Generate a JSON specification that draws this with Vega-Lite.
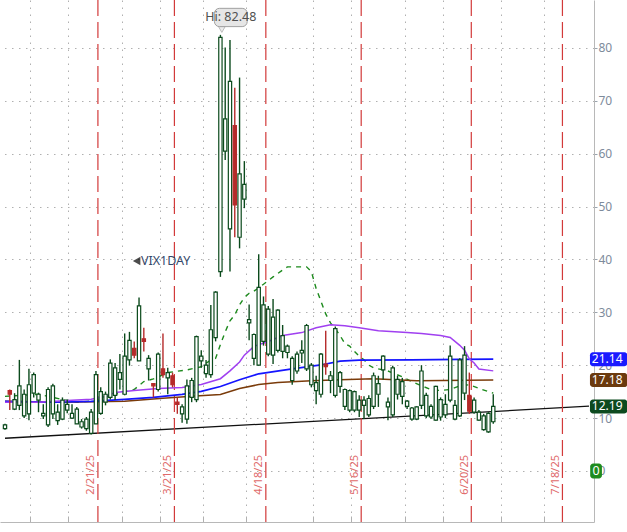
{
"$schema": "https://vega.github.io/schema/vega-lite/v6.json",
"width": 594, "height": 522, "autosize": "none", "padding": {"left": 0, "top": 0, "right": 33, "bottom": 10},
"background": "#ffffff",
"config": {"view": {"stroke": null, "fill": "#ffffff"}, "font": "Noto Sans"},
"resolve": {"scale": {"color": "independent", "fill": "independent", "stroke": "independent"}},
"datasets": {
"trend": [{"d": 0, "v": 6.18}, {"d": 122, "v": 12.24}],
"opex": [{"d": 19.41, "lab": "2/21/25"}, {"d": 35.39, "lab": "3/21/25"}, {"d": 54.49, "lab": "4/18/25"}, {"d": 74.41, "lab": "5/16/25"}, {"d": 97.41, "lab": "6/20/25"}, {"d": 116.45, "lab": "7/18/25"}],
"candles": [
{"d":0,"h":8.9,"l":7.8,"top":8.7,"bot":8.0,"t":"up"},
{"d":1,"h":15.4,"l":11.5,"top":15.2,"bot":14.5,"t":"dn"},
{"d":2,"h":14.7,"l":11.5,"top":13.5,"bot":11.7,"t":"up"},
{"d":3,"h":21.0,"l":11.5,"top":16.1,"bot":12.4,"t":"up"},
{"d":4,"h":15.4,"l":10.0,"top":14.5,"bot":10.4,"t":"up"},
{"d":5,"h":19.3,"l":9.6,"top":16.3,"bot":10.8,"t":"up"},
{"d":6,"h":18.6,"l":13.9,"top":18.2,"bot":14.7,"t":"up"},
{"d":7,"h":14.8,"l":11.1,"top":14.5,"bot":13.4,"t":"up"},
{"d":8,"h":12.6,"l":9.8,"top":10.9,"bot":10.4,"t":"up"},
{"d":9,"h":15.8,"l":8.3,"top":15.4,"bot":8.7,"t":"up"},
{"d":10,"h":16.5,"l":9.8,"top":16.1,"bot":10.8,"t":"up"},
{"d":11,"h":12.6,"l":8.7,"top":11.1,"bot":9.5,"t":"up"},
{"d":12,"h":13.9,"l":9.6,"top":13.4,"bot":9.8,"t":"up"},
{"d":13,"h":13.5,"l":10.9,"top":12.6,"bot":11.5,"t":"up"},
{"d":14,"h":12.6,"l":9.8,"top":10.9,"bot":10.0,"t":"up"},
{"d":15,"h":12.1,"l":8.9,"top":11.7,"bot":8.9,"t":"up"},
{"d":16,"h":9.8,"l":8.0,"top":9.3,"bot":8.3,"t":"up"},
{"d":17,"h":10.2,"l":7.6,"top":9.8,"bot":8.0,"t":"up"},
{"d":18,"h":11.7,"l":6.9,"top":11.1,"bot":7.1,"t":"up"},
{"d":19,"h":18.9,"l":8.9,"top":18.2,"bot":8.9,"t":"up"},
{"d":20,"h":15.8,"l":10.6,"top":15.0,"bot":10.9,"t":"up"},
{"d":21,"h":15.0,"l":12.4,"top":14.5,"bot":13.0,"t":"up"},
{"d":22,"h":21.1,"l":13.5,"top":20.4,"bot":13.9,"t":"up"},
{"d":23,"h":20.4,"l":13.4,"top":19.5,"bot":14.3,"t":"up"},
{"d":24,"h":22.1,"l":15.4,"top":18.6,"bot":17.3,"t":"up"},
{"d":25,"h":26.0,"l":14.3,"top":21.7,"bot":14.5,"t":"up"},
{"d":26,"h":26.3,"l":19.9,"top":24.7,"bot":21.0,"t":"up"},
{"d":27,"h":24.5,"l":21.3,"top":23.2,"bot":21.9,"t":"dn"},
{"d":28,"h":32.8,"l":20.8,"top":31.2,"bot":20.8,"t":"up"},
{"d":29,"h":27.1,"l":22.6,"top":25.0,"bot":24.5,"t":"dn"},
{"d":30,"h":21.9,"l":17.1,"top":21.3,"bot":19.3,"t":"up"},
{"d":31,"h":16.5,"l":13.9,"top":16.5,"bot":16.1,"t":"dn"},
{"d":32,"h":22.4,"l":15.0,"top":22.1,"bot":15.4,"t":"up"},
{"d":33,"h":26.0,"l":17.6,"top":19.3,"bot":18.2,"t":"dn"},
{"d":34,"h":19.5,"l":14.5,"top":18.6,"bot":17.6,"t":"up"},
{"d":35,"h":18.6,"l":15.8,"top":18.0,"bot":16.3,"t":"dn"},
{"d":36,"h":13.9,"l":10.8,"top":13.0,"bot":12.6,"t":"dn"},
{"d":37,"h":12.6,"l":9.1,"top":12.1,"bot":10.8,"t":"up"},
{"d":38,"h":17.3,"l":8.9,"top":16.1,"bot":9.8,"t":"up"},
{"d":39,"h":17.6,"l":13.0,"top":17.1,"bot":13.9,"t":"up"},
{"d":40,"h":25.6,"l":13.0,"top":25.4,"bot":13.5,"t":"up"},
{"d":41,"h":22.8,"l":19.5,"top":21.7,"bot":20.8,"t":"up"},
{"d":42,"h":21.0,"l":17.6,"top":20.0,"bot":18.4,"t":"up"},
{"d":43,"h":31.4,"l":17.6,"top":26.7,"bot":18.2,"t":"up"},
{"d":44,"h":34.0,"l":24.5,"top":33.8,"bot":25.2,"t":"up"},
{"d":45,"h":82.48,"l":36.7,"top":82.0,"bot":37.7,"t":"up"},
{"d":46,"h":80.1,"l":58.8,"top":66.6,"bot":60.5,"t":"up"},
{"d":47,"h":81.5,"l":37.7,"top":73.7,"bot":45.8,"t":"up"},
{"d":48,"h":72.5,"l":44.2,"top":65.3,"bot":50.3,"t":"dn"},
{"d":49,"h":74.4,"l":42.1,"top":56.2,"bot":44.2,"t":"up"},
{"d":50,"h":58.6,"l":49.7,"top":54.2,"bot":51.4,"t":"up"},
{"d":51,"h":31.5,"l":24.7,"top":28.6,"bot":28.0,"t":"up"},
{"d":52,"h":26.0,"l":20.0,"top":25.8,"bot":21.3,"t":"up"},
{"d":53,"h":41.0,"l":19.9,"top":34.7,"bot":20.0,"t":"up"},
{"d":54,"h":33.0,"l":23.7,"top":31.4,"bot":24.5,"t":"up"},
{"d":55,"h":31.2,"l":21.7,"top":30.6,"bot":22.1,"t":"up"},
{"d":56,"h":32.5,"l":20.2,"top":29.1,"bot":21.9,"t":"up"},
{"d":57,"h":30.6,"l":22.4,"top":30.4,"bot":22.8,"t":"up"},
{"d":58,"h":27.6,"l":21.3,"top":25.6,"bot":22.6,"t":"up"},
{"d":59,"h":23.9,"l":21.3,"top":23.6,"bot":22.4,"t":"up"},
{"d":60,"h":21.7,"l":16.3,"top":21.3,"bot":17.1,"t":"up"},
{"d":61,"h":22.6,"l":18.4,"top":22.1,"bot":18.9,"t":"up"},
{"d":62,"h":24.7,"l":20.4,"top":22.8,"bot":22.3,"t":"up"},
{"d":63,"h":27.8,"l":18.9,"top":27.5,"bot":19.3,"t":"up"},
{"d":64,"h":20.4,"l":15.8,"top":20.0,"bot":16.3,"t":"up"},
{"d":65,"h":18.0,"l":12.6,"top":16.7,"bot":15.2,"t":"up"},
{"d":66,"h":22.3,"l":13.9,"top":22.1,"bot":14.5,"t":"up"},
{"d":67,"h":26.5,"l":18.2,"top":20.2,"bot":19.7,"t":"dn"},
{"d":68,"h":18.9,"l":14.7,"top":18.0,"bot":17.1,"t":"up"},
{"d":69,"h":27.3,"l":13.9,"top":26.9,"bot":14.3,"t":"up"},
{"d":70,"h":18.9,"l":14.8,"top":18.6,"bot":16.0,"t":"up"},
{"d":71,"h":15.6,"l":11.5,"top":15.4,"bot":12.2,"t":"up"},
{"d":72,"h":15.4,"l":11.1,"top":15.2,"bot":11.5,"t":"up"},
{"d":73,"h":15.2,"l":11.1,"top":15.0,"bot":11.5,"t":"up"},
{"d":74,"h":14.3,"l":10.2,"top":13.4,"bot":11.5,"t":"up"},
{"d":75,"h":14.1,"l":9.8,"top":13.4,"bot":12.4,"t":"up"},
{"d":76,"h":14.3,"l":10.2,"top":13.7,"bot":10.6,"t":"up"},
{"d":77,"h":18.6,"l":11.7,"top":18.0,"bot":12.2,"t":"up"},
{"d":78,"h":18.0,"l":12.1,"top":16.5,"bot":14.5,"t":"up"},
{"d":79,"h":21.9,"l":17.3,"top":21.7,"bot":19.1,"t":"up"},
{"d":80,"h":13.9,"l":9.6,"top":13.0,"bot":12.1,"t":"up"},
{"d":81,"h":19.9,"l":10.2,"top":19.5,"bot":10.6,"t":"up"},
{"d":82,"h":18.0,"l":13.5,"top":17.3,"bot":14.5,"t":"up"},
{"d":83,"h":17.6,"l":12.6,"top":16.9,"bot":14.1,"t":"up"},
{"d":84,"h":13.4,"l":11.7,"top":13.2,"bot":12.2,"t":"up"},
{"d":85,"h":12.1,"l":9.5,"top":11.9,"bot":9.8,"t":"up"},
{"d":86,"h":12.2,"l":9.6,"top":12.1,"bot":9.8,"t":"up"},
{"d":87,"h":20.0,"l":11.7,"top":18.9,"bot":12.4,"t":"up"},
{"d":88,"h":14.8,"l":10.0,"top":14.3,"bot":10.4,"t":"up"},
{"d":89,"h":12.6,"l":9.8,"top":12.2,"bot":10.2,"t":"up"},
{"d":90,"h":16.1,"l":9.5,"top":16.0,"bot":9.6,"t":"up"},
{"d":91,"h":13.9,"l":9.5,"top":13.5,"bot":10.2,"t":"up"},
{"d":92,"h":14.5,"l":10.0,"top":12.6,"bot":10.6,"t":"up"},
{"d":93,"h":23.7,"l":13.0,"top":21.7,"bot":13.4,"t":"up"},
{"d":94,"h":13.4,"l":9.6,"top":12.4,"bot":9.8,"t":"up"},
{"d":95,"h":21.3,"l":10.2,"top":21.0,"bot":10.4,"t":"up"},
{"d":96,"h":23.6,"l":13.4,"top":21.9,"bot":14.7,"t":"up"},
{"d":97,"h":18.6,"l":10.8,"top":14.3,"bot":11.3,"t":"dn"},
{"d":98,"h":13.9,"l":10.8,"top":13.4,"bot":11.1,"t":"up"},
{"d":99,"h":11.5,"l":9.5,"top":11.1,"bot":9.6,"t":"up"},
{"d":100,"h":10.8,"l":7.6,"top":10.4,"bot":7.8,"t":"up"},
{"d":101,"h":11.1,"l":7.2,"top":10.9,"bot":7.4,"t":"up"},
{"d":102,"h":14.5,"l":8.9,"top":12.19,"bot":9.3,"t":"up"}
],
"ma": [
{"s":"g","d":0,"v":14.1},{"s":"g","d":7,"v":14.5},{"s":"g","d":10,"v":13.9},{"s":"g","d":12,"v":13.5},{"s":"g","d":15,"v":13.0},{"s":"g","d":18,"v":13.2},{"s":"g","d":20,"v":13.7},{"s":"g","d":24,"v":14.7},{"s":"g","d":27,"v":15.4},{"s":"g","d":29,"v":16.9},{"s":"g","d":31,"v":17.4},{"s":"g","d":34,"v":18.6},{"s":"g","d":38,"v":19.1},{"s":"g","d":41,"v":19.7},{"s":"g","d":43,"v":21.0},{"s":"g","d":44,"v":21.3},{"s":"g","d":45,"v":23.9},{"s":"g","d":46,"v":26.3},{"s":"g","d":47,"v":28.4},{"s":"g","d":48,"v":29.5},{"s":"g","d":49,"v":31.4},{"s":"g","d":50,"v":32.8},{"s":"g","d":51,"v":33.6},{"s":"g","d":52,"v":34.0},{"s":"g","d":54,"v":35.3},{"s":"g","d":56,"v":36.7},{"s":"g","d":58,"v":38.0},{"s":"g","d":59,"v":38.6},{"s":"g","d":63,"v":38.6},{"s":"g","d":64,"v":37.7},{"s":"g","d":65,"v":34.5},{"s":"g","d":66,"v":32.1},{"s":"g","d":67,"v":29.7},{"s":"g","d":68,"v":28.0},{"s":"g","d":69,"v":26.9},{"s":"g","d":70,"v":25.6},{"s":"g","d":71,"v":24.1},{"s":"g","d":72,"v":23.6},{"s":"g","d":73,"v":22.6},{"s":"g","d":74,"v":21.7},{"s":"g","d":75,"v":21.0},{"s":"g","d":76,"v":20.0},{"s":"g","d":77,"v":19.5},{"s":"g","d":80,"v":18.9},{"s":"g","d":83,"v":17.8},{"s":"g","d":85,"v":16.9},{"s":"g","d":87,"v":16.1},{"s":"g","d":89,"v":15.4},{"s":"g","d":91,"v":15.2},{"s":"g","d":93,"v":15.4},{"s":"g","d":95,"v":16.1},{"s":"g","d":97,"v":16.3},{"s":"g","d":99,"v":15.6},{"s":"g","d":102,"v":14.7},
{"s":"p","d":0,"v":12.99},{"s":"p","d":7,"v":12.99},{"s":"p","d":14,"v":13.36},{"s":"p","d":18,"v":13.54},{"s":"p","d":21,"v":14.1},{"s":"p","d":23,"v":14.84},{"s":"p","d":27,"v":15.21},{"s":"p","d":32,"v":15.58},{"s":"p","d":37,"v":15.77},{"s":"p","d":41,"v":16.33},{"s":"p","d":45,"v":17.44},{"s":"p","d":47,"v":18.92},{"s":"p","d":49,"v":20.59},{"s":"p","d":50,"v":21.89},{"s":"p","d":52,"v":23.56},{"s":"p","d":55,"v":24.49},{"s":"p","d":58,"v":25.6},{"s":"p","d":62,"v":26.16},{"s":"p","d":65,"v":27.09},{"s":"p","d":68,"v":27.64},{"s":"p","d":71,"v":27.46},{"s":"p","d":74,"v":27.09},{"s":"p","d":78,"v":26.53},{"s":"p","d":84,"v":26.16},{"s":"p","d":87,"v":25.97},{"s":"p","d":91,"v":25.6},{"s":"p","d":93,"v":25.23},{"s":"p","d":95,"v":23.75},{"s":"p","d":96,"v":22.82},{"s":"p","d":97,"v":21.2},{"s":"p","d":98,"v":20.4},{"s":"p","d":99,"v":19.29},{"s":"p","d":102,"v":18.92},
{"s":"b","d":0,"v":13.17},{"s":"b","d":10,"v":12.99},{"s":"b","d":18,"v":13.17},{"s":"b","d":25,"v":13.54},{"s":"b","d":31,"v":13.91},{"s":"b","d":37,"v":14.47},{"s":"b","d":41,"v":15.03},{"s":"b","d":45,"v":15.96},{"s":"b","d":49,"v":17.25},{"s":"b","d":53,"v":18.37},{"s":"b","d":60,"v":19.29},{"s":"b","d":66,"v":20.04},{"s":"b","d":70,"v":20.78},{"s":"b","d":74,"v":20.96},{"s":"b","d":85,"v":21.0},{"s":"b","d":95,"v":21.1},{"s":"b","d":102,"v":21.14},
{"s":"r","d":0,"v":13.17},{"s":"r","d":12,"v":12.99},{"s":"r","d":25,"v":13.17},{"s":"r","d":33,"v":13.73},{"s":"r","d":39,"v":14.1},{"s":"r","d":45,"v":14.47},{"s":"r","d":49,"v":15.58},{"s":"r","d":53,"v":16.33},{"s":"r","d":57,"v":16.7},{"s":"r","d":64,"v":17.07},{"s":"r","d":70,"v":17.25},{"s":"r","d":77,"v":17.44},{"s":"r","d":86,"v":17.07},{"s":"r","d":102,"v":17.18}
],
"boxes": [{"v": 21.14, "lab": "21.14", "col": "b"}, {"v": 17.18, "lab": "17.18", "col": "r"}, {"v": 12.19, "lab": "12.19", "col": "g"}]
},
"encoding": {
 "x": {"type": "quantitative", "scale": {"domain": [0, 122], "nice": false, "zero": false},
  "axis": {"orient": "bottom", "values": [5.26, 13.23, 24.4, 32.37, 41.4, 50.36, 64.41, 72.38, 83.47, 91.44, 103.67, 112.63], "grid": true, "gridColor": "#b0b0b0", "gridDash": [1.5, 5.5], "labels": false, "ticks": true, "tickSize": -6, "tickColor": "#b0b0b0", "domainColor": "#b8b8b8", "title": null, "zindex": 0}},
 "y": {"type": "quantitative", "scale": {"domain": [-8.72, 88.13], "nice": false, "zero": false},
  "axis": {"orient": "right", "values": [0, 10, 20, 30, 40, 50, 60, 70, 80], "grid": true, "gridColor": "#b0b0b0", "gridDash": [1.5, 5.5], "labelColor": "#7d8b9b", "labelFontSize": 12, "labelFont": "Noto Sans", "tickSize": 3, "tickColor": "#9aa4ae", "domainColor": "#b8b8b8", "labelPadding": 1, "title": null, "zindex": 0}}
},
"layer": [
{
 "data": {"name": "trend"},
 "mark": {"type": "line", "color": "#111111", "strokeWidth": 1.3, "clip": true},
 "encoding": {"x": {"field": "d"}, "y": {"field": "v"}}
},
{
 "data": {"name": "opex"},
 "mark": {"type": "rule", "color": "#d23a3a", "strokeWidth": 1.2, "strokeDash": [16, 6]},
 "encoding": {"x": {"field": "d"}, "y": null}
},
{
 "data": {"name": "opex"},
 "mark": {"type": "text", "angle": 270, "align": "center", "baseline": "middle", "dy": -6.5, "fontSize": 11, "color": "#e06a6a", "font": "Noto Sans"},
 "encoding": {"x": {"field": "d"}, "y": {"datum": -0.74}, "text": {"field": "lab"}}
},
{
 "data": {"name": "ma"},
 "transform": [{"filter": "datum.s == 'g'"}],
 "mark": {"type": "line", "color": "#1d8a1d", "strokeWidth": 1.4, "strokeDash": [5, 5], "clip": true},
 "encoding": {"x": {"field": "d"}, "y": {"field": "v"}}
},
{
 "data": {"name": "ma"},
 "transform": [{"filter": "datum.s == 'r'"}],
 "mark": {"type": "line", "color": "#7a3b0a", "strokeWidth": 1.5, "clip": true},
 "encoding": {"x": {"field": "d"}, "y": {"field": "v"}}
},
{
 "data": {"name": "ma"},
 "transform": [{"filter": "datum.s == 'b'"}],
 "mark": {"type": "line", "color": "#1515ff", "strokeWidth": 1.7, "clip": true},
 "encoding": {"x": {"field": "d"}, "y": {"field": "v"}}
},
{
 "data": {"name": "ma"},
 "transform": [{"filter": "datum.s == 'p'"}],
 "mark": {"type": "line", "color": "#a040f0", "strokeWidth": 1.5, "clip": true},
 "encoding": {"x": {"field": "d"}, "y": {"field": "v"}}
},
{
 "data": {"name": "candles"},
 "mark": {"type": "rule", "strokeWidth": 1.4, "clip": true},
 "encoding": {
  "x": {"field": "d"}, "y": {"field": "l"}, "y2": {"field": "h"},
  "color": {"field": "t", "type": "nominal", "scale": {"domain": ["up", "dn"], "range": ["#0b4a1c", "#b52a2a"]}, "legend": null}
 }
},
{
 "data": {"name": "candles"},
 "mark": {"type": "bar", "orient": "vertical", "size": 3.3, "strokeWidth": 1.2, "clip": true},
 "encoding": {
  "x": {"field": "d"}, "y": {"field": "bot"}, "y2": {"field": "top"},
  "fill": {"field": "t", "type": "nominal", "scale": {"domain": ["up", "dn"], "range": ["#ffffff", "#b52a2a"]}, "legend": null},
  "stroke": {"field": "t", "type": "nominal", "scale": {"domain": ["up", "dn"], "range": ["#0b4a1c", "#b52a2a"]}, "legend": null}
 }
},
{
 "data": {"values": [{}]},
 "mark": {"type": "point", "shape": "triangle-down", "size": 45, "filled": true, "fill": "#e6e6e6", "stroke": "#a0a0a0", "strokeWidth": 1},
 "encoding": {"x": {"datum": 45.3}, "y": {"datum": 83.5}}
},
{
 "data": {"values": [{}]},
 "mark": {"type": "rect", "fill": "#e6e6e6", "stroke": "#a0a0a0", "strokeWidth": 1, "cornerRadius": 5},
 "encoding": {"x": {"datum": 43.75}, "x2": {"datum": 50.6}, "y": {"datum": 84.04}, "y2": {"datum": 87.5}}
},
{
 "data": {"values": [{}]},
 "mark": {"type": "text", "text": "Hi: 82.48", "align": "center", "baseline": "middle", "fontSize": 12.5, "color": "#505050", "font": "Noto Sans"},
 "encoding": {"x": {"datum": 47.17}, "y": {"datum": 85.77}}
},
{
 "data": {"values": [{}]},
 "mark": {"type": "point", "shape": "triangle-left", "size": 75, "filled": true, "color": "#000000"},
 "encoding": {"x": {"datum": 27.5}, "y": {"datum": 39.7}}
},
{
 "data": {"values": [{}]},
 "mark": {"type": "text", "text": "VIX1DAY", "align": "left", "baseline": "middle", "fontSize": 12.5, "color": "#34486a", "font": "Noto Sans"},
 "encoding": {"x": {"datum": 28.4}, "y": {"datum": 39.7}}
},
{
 "data": {"name": "boxes"},
 "mark": {"type": "bar", "orient": "horizontal", "size": 14, "cornerRadius": 3},
 "encoding": {
  "x": {"datum": 122.2}, "x2": {"datum": 130}, "y": {"field": "v"},
  "color": {"field": "col", "type": "nominal", "scale": {"domain": ["b", "r", "g"], "range": ["#1a1aff", "#6b3a0e", "#0d4a1f"]}, "legend": null}
 }
},
{
 "data": {"name": "boxes"},
 "mark": {"type": "text", "align": "left", "baseline": "middle", "fontSize": 12, "color": "#ffffff", "font": "Noto Sans"},
 "encoding": {"x": {"datum": 122.6}, "y": {"field": "v"}, "text": {"field": "lab"}}
},
{
 "data": {"values": [{}]},
 "mark": {"type": "bar", "orient": "horizontal", "size": 15, "cornerRadius": 3, "color": "#1e8c1e"},
 "encoding": {"x": {"datum": 122.25}, "x2": {"datum": 124.7}, "y": {"datum": 0}}
},
{
 "data": {"values": [{}]},
 "mark": {"type": "text", "text": "0", "align": "center", "baseline": "middle", "fontSize": 12.5, "color": "#ffffff", "font": "Noto Sans"},
 "encoding": {"x": {"datum": 123.47}, "y": {"datum": 0}}
}
]
}
